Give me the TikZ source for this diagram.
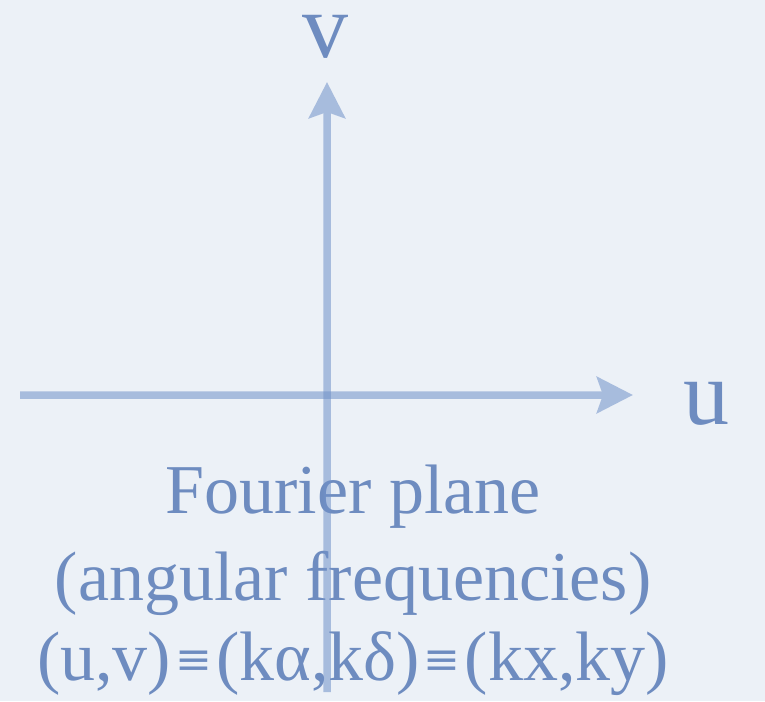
\documentclass[tikz,border=0pt]{standalone}
\usepackage{fontspec}
\setmainfont{Liberation Serif}
\newfontfamily\symfont{DejaVu Serif}
\usetikzlibrary{arrows.meta}
\definecolor{paper}{RGB}{236,241,247}
\definecolor{inkblue}{RGB}{110,140,192}
\definecolor{axisblue}{RGB}{112,145,200}
\newcommand{\eqv}{\hspace{4pt}{\symfont\fontsize{44}{44}\selectfont\raisebox{6pt}{≡}}\hspace{4pt}}
\tikzset{
  axisgroup/.style={transparency group, opacity=0.55},
  axis/.style={draw=axisblue, line width=7.5pt,
    -{Stealth[length=36pt,width=36pt,inset=6pt]}},
  biglabel/.style={text=inkblue, font=\fontsize{92}{92}\selectfont, inner sep=0pt, anchor=base},
  caption/.style={text=inkblue, font=\fontsize{70}{70}\selectfont, inner sep=0pt, anchor=base}
}
\begin{document}
\begin{tikzpicture}[x=1pt,y=-1pt]
\useasboundingbox (0,0) rectangle (765,701);
\fill[paper] (0,0) rectangle (765,701);
\node[biglabel] (vlab) at (325,58) {v};
\node[biglabel] (ulab) at (706,424) {u};
\node[caption] (l1) at (353,513) {Fourier plane};
\node[caption] (l2) at (353,600) {(angular frequencies)};
\node[caption] (l3) at (353,680) {(u,v)\eqv(kα,kδ)\eqv(kx,ky)};
\coordinate (hstart) at (20,395);
\coordinate (hend) at (633,395);
\coordinate (vstart) at (327,692);
\coordinate (vend) at (327,82);
\begin{scope}[axisgroup]
\draw[axis] (hstart) -- (hend);
\end{scope}
\begin{scope}[axisgroup]
\draw[axis] (vstart) -- (vend);
\end{scope}
\end{tikzpicture}
\end{document}
